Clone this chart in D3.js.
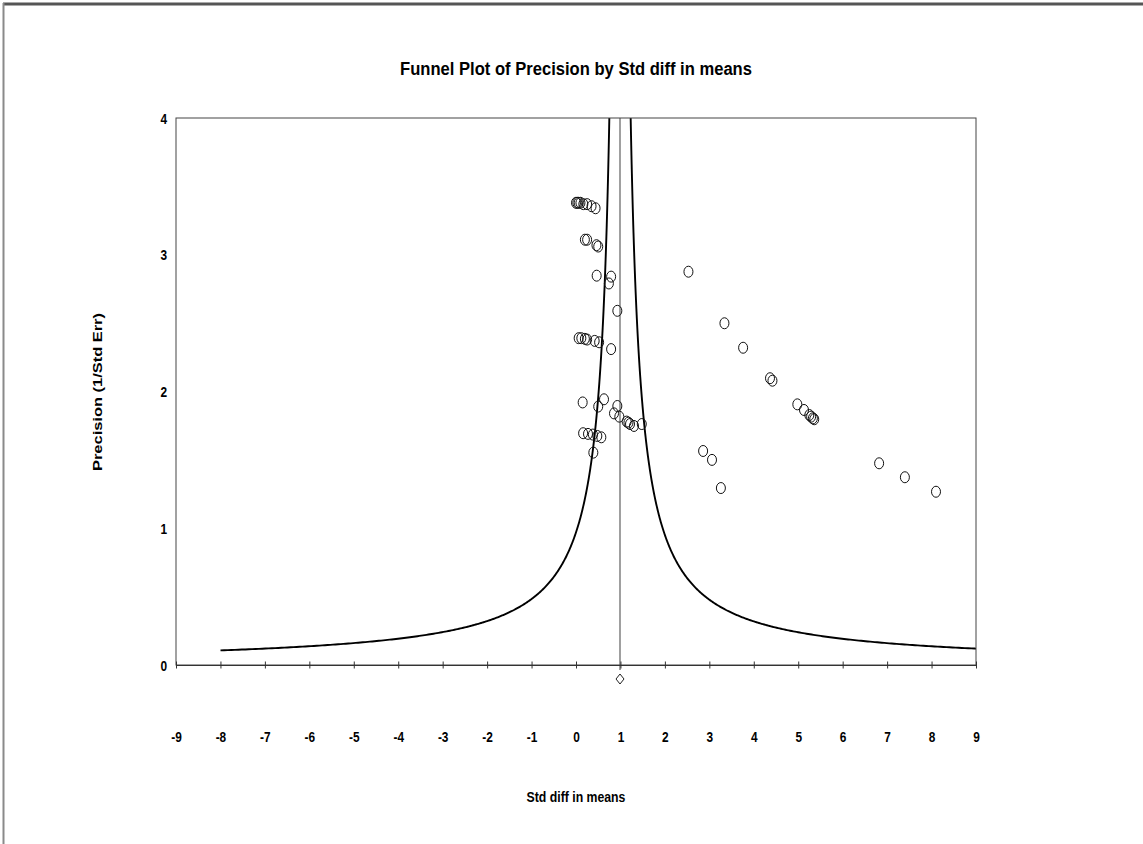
<!DOCTYPE html>
<html><head><meta charset="utf-8">
<script src="https://cdn.jsdelivr.net/npm/d3@7"></script>
<style>body{margin:0;background:#fff} svg{display:block}</style>
</head><body><svg id="c" width="1143" height="844"></svg>
<script>
const titleText = "Funnel Plot of Precision by Std diff in means";
const xLabel = "Std diff in means";
const yLabel = "Precision (1/Std Err)";
const xTicks = [-9,-8,-7,-6,-5,-4,-3,-2,-1,0,1,2,3,4,5,6,7,8,9];
const yTicks = [0,1,2,3,4];
// study effects (Std diff in means) and precisions (1/SE)
const effects = [0.00,0.03,0.06,0.10,0.165,0.25,0.35,0.44,
  0.20,0.25,0.46,0.50,
  0.465,0.79,0.74,
  0.93,
  0.06,0.12,0.20,0.25,0.42,0.52,0.79,
  0.15,0.63,0.50,0.93,0.855,0.975,1.14,1.18,1.215,1.305,1.48,
  0.16,0.27,0.38,0.48,0.57,0.39,
  2.53,3.34,3.76,4.365,4.42,4.98,5.13,5.25,5.29,5.33,5.36,
  6.82,7.40,8.10,2.86,3.06,3.26];
const precisions = [3.38,3.38,3.38,3.38,3.37,3.37,3.355,3.34,
  3.11,3.11,3.07,3.06,
  2.847,2.84,2.79,
  2.59,
  2.39,2.39,2.385,2.38,2.37,2.36,2.31,
  1.92,1.943,1.89,1.894,1.84,1.816,1.78,1.772,1.762,1.748,1.762,
  1.695,1.69,1.685,1.675,1.665,1.553,
  2.876,2.499,2.32,2.097,2.079,1.906,1.865,1.828,1.816,1.804,1.797,
  1.475,1.373,1.267,1.565,1.50,1.294];
const summaryEffect = 0.99;
const funnelK = 0.96;
const precisionMin = 0.1068;

const FONT = "'Liberation Sans', Arial, sans-serif";
const svg = d3.select("#c");
const W = 1143, H = 844;
const plot = {left:176, top:118, right:976, bottom:665};
const x = d3.scaleLinear().domain([-9,9]).range([plot.left, plot.right]);
const y = d3.scaleLinear().domain([0,4]).range([plot.bottom, plot.top]);

// outer frame lines
svg.append("line").attr("x1",3).attr("x2",W).attr("y1",4).attr("y2",4)
  .attr("stroke","#555").attr("stroke-width",3);
svg.append("line").attr("x1",3.5).attr("x2",3.5).attr("y1",3).attr("y2",H)
  .attr("stroke","#8a8a8a").attr("stroke-width",2);

// narrow text helper (horizontal condensing like Arial Narrow)
function narrowText(px, py, str, size, sx, anchor){
  return svg.append("text").attr("transform",`translate(${px},${py}) scale(${sx},1)`)
    .attr("text-anchor",anchor||"middle")
    .style("font-family",FONT).style("font-weight","bold").style("font-size",size+"px")
    .attr("fill","#000").text(str);
}

// title
narrowText(576, 75, titleText, 19, 0.873);

// clip
svg.append("clipPath").attr("id","clip").append("rect")
  .attr("x",plot.left).attr("y",plot.top).attr("width",plot.right-plot.left).attr("height",plot.bottom-plot.top);

// funnel curves
const ps = d3.range(0, 401).map(i => precisionMin * Math.pow(4.2/precisionMin, i/400));
const line = d3.line().x(d=>x(d[0])).y(d=>y(d[1]));
[-1,1].forEach(s=>{
  svg.append("path").attr("clip-path","url(#clip)")
    .attr("d", line(ps.map(p=>[summaryEffect + s*funnelK/p, p])))
    .attr("fill","none").attr("stroke","#000").attr("stroke-width",1.9);
});

// vertical line at summary effect
svg.append("line").attr("x1",x(summaryEffect)).attr("x2",x(summaryEffect))
  .attr("y1",plot.top).attr("y2",plot.bottom+5).attr("stroke","#777").attr("stroke-width",1.4);

// box
svg.append("rect").attr("x",plot.left).attr("y",plot.top)
  .attr("width",plot.right-plot.left).attr("height",plot.bottom-plot.top)
  .attr("fill","none").attr("stroke","#444").attr("stroke-width",1);

// x axis
const gx = svg.append("g").attr("transform",`translate(0,${plot.bottom})`)
  .call(d3.axisBottom(x).tickValues(xTicks).tickSize(0).tickPadding(0).tickFormat(d=>String(d)));
gx.select(".domain").attr("stroke","#333").attr("stroke-width",1.2);
gx.selectAll(".tick line").attr("y1",-3.5).attr("y2",3.5).attr("stroke","#333");
gx.selectAll(".tick text").attr("y",0).attr("dy",null)
  .attr("transform","translate(0,77) scale(0.82,1)").attr("fill","#000")
  .style("font-family",FONT).style("font-weight","bold").style("font-size","14.5px");

// y axis
const gy = svg.append("g").attr("transform",`translate(${plot.left},0)`)
  .call(d3.axisLeft(y).tickValues(yTicks).tickSize(0).tickPadding(0).tickFormat(d=>String(d)));
gy.select(".domain").remove();
gy.selectAll(".tick text").attr("x",0).attr("dy","0.35em")
  .attr("transform","translate(-9,0) scale(0.82,1)").attr("fill","#000")
  .style("font-family",FONT).style("font-weight","bold").style("font-size","14.5px");

// axis titles
narrowText(576, 802, xLabel, 14, 0.878);
svg.append("text").attr("transform","translate(102,392) rotate(-90)").attr("text-anchor","middle")
  .style("font-family",FONT).style("font-weight","bold").style("font-size","12.5px")
  .attr("textLength",158).attr("lengthAdjust","spacingAndGlyphs").text(yLabel);

// points
const pts = effects.map((e,i)=>({e, p:precisions[i]}));
svg.append("g").selectAll("ellipse").data(pts).join("ellipse")
  .attr("cx",d=>x(d.e)).attr("cy",d=>y(d.p)).attr("rx",4.5).attr("ry",5.5)
  .attr("fill","none").attr("stroke","#111").attr("stroke-width",1);

// summary diamond
const dx = x(summaryEffect), dy = plot.bottom + 14;
svg.append("path").attr("d",`M${dx},${dy-5}L${dx+4},${dy}L${dx},${dy+5}L${dx-4},${dy}Z`)
  .attr("fill","#fff").attr("stroke","#222").attr("stroke-width",1);
</script></body></html>
